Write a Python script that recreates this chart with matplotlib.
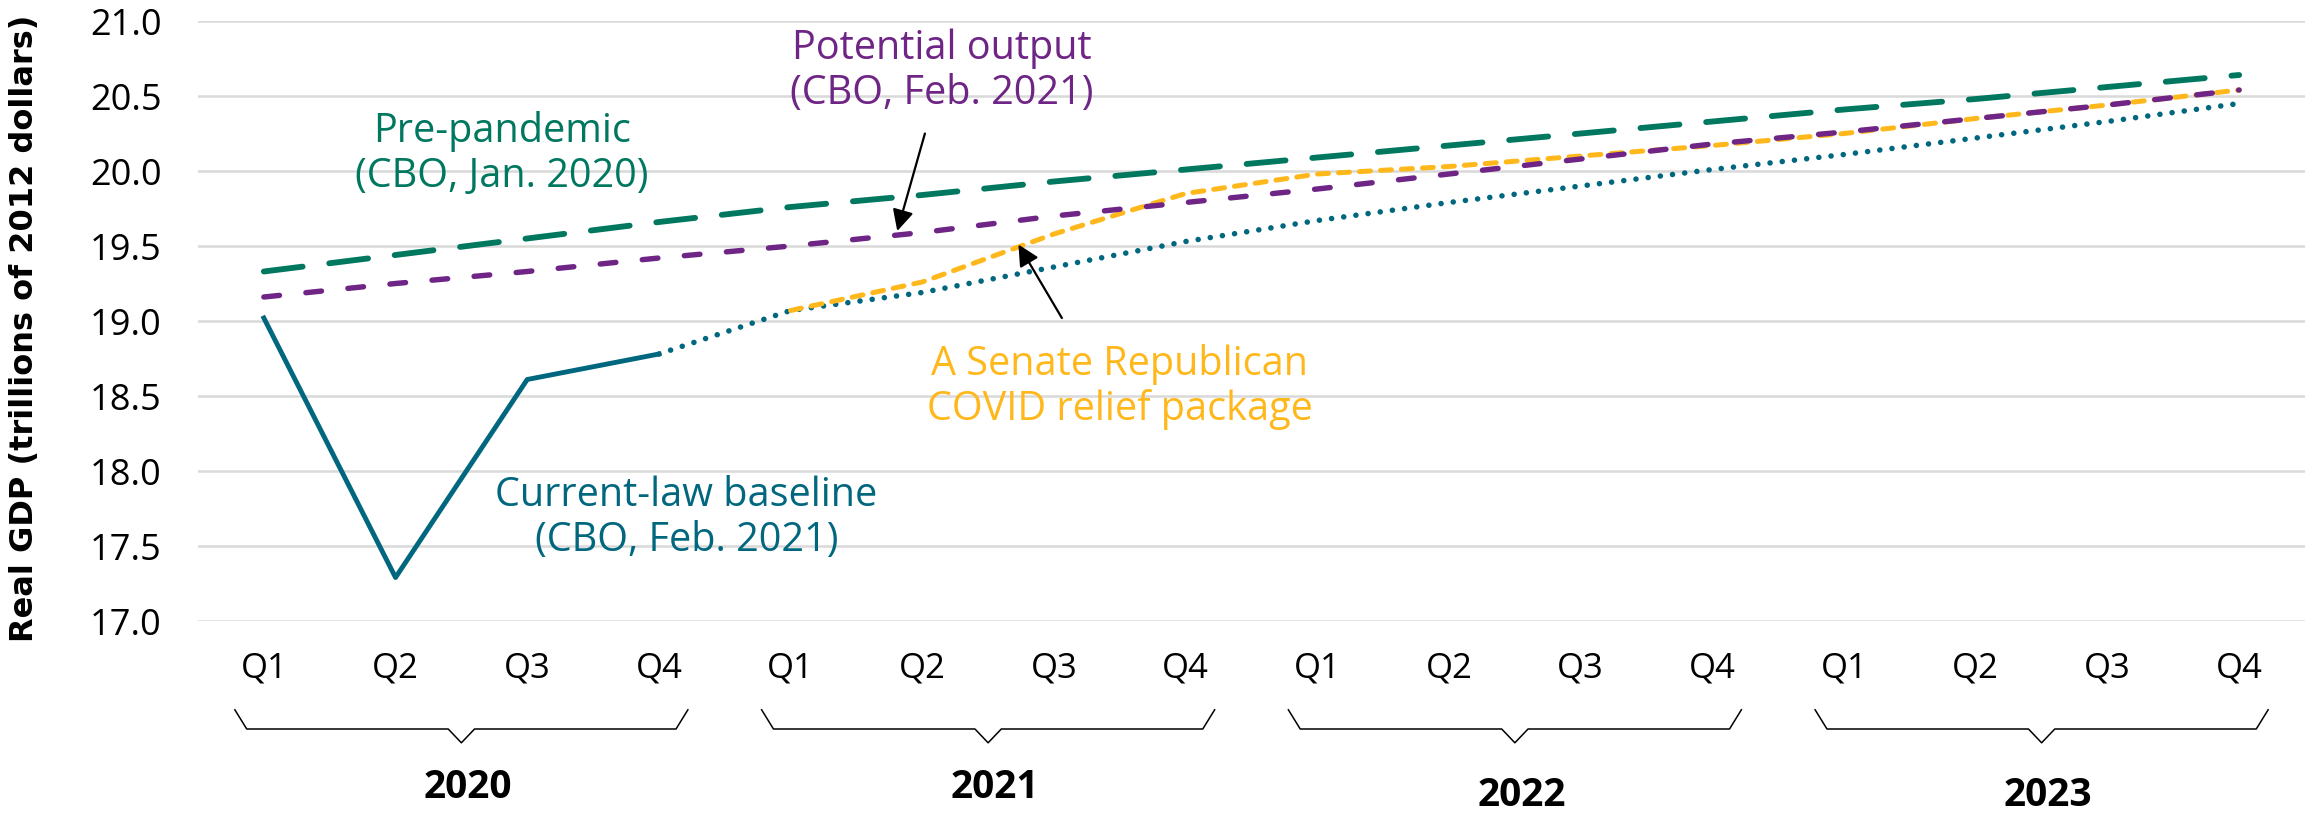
import matplotlib
matplotlib.use("Agg")
from matplotlib import pyplot as plt
import matplotlib.transforms as mtransforms

plt.rcParams['font.family'] = ['Open Sans', 'DejaVu Sans']

# data
quarters = ["Q1", "Q2", "Q3", "Q4"] * 4
years = ["2020", "2021", "2022", "2023"]
x_all = list(range(16))

pre_pandemic = [19.33, 19.44, 19.55, 19.66, 19.76, 19.84, 19.93, 20.01,
                20.09, 20.17, 20.25, 20.33, 20.41, 20.48, 20.56, 20.64]
potential = [19.16, 19.25, 19.33, 19.42, 19.50, 19.59, 19.70, 19.79,
             19.88, 19.98, 20.08, 20.18, 20.26, 20.35, 20.44, 20.54]
baseline_actual = [19.02, 17.29, 18.61, 18.78]
baseline_proj = [18.78, 19.07, 19.19, 19.36, 19.53, 19.67, 19.79, 19.90,
                 20.01, 20.11, 20.22, 20.33, 20.45]
senate_gop = [19.07, 19.26, 19.58, 19.85, 19.98, 20.03, 20.10, 20.17,
              20.25, 20.35, 20.44, 20.54]

green = "#00775F"
purple = "#6F2585"
teal = "#00677F"
yellow = "#FFB81C"

fig = plt.figure(figsize=(23.05, 8.13), dpi=100)
ax = fig.add_axes([198 / 2305, 192 / 813, 1 - 198 / 2305, 600 / 813])

ax.set_xlim(-0.5, 15.5)
ax.set_ylim(17.0, 21.0)
ax.set_yticks([17.0, 17.5, 18.0, 18.5, 19.0, 19.5, 20.0, 20.5, 21.0])
ax.set_yticklabels(["%.1f" % v for v in ax.get_yticks()], fontsize=26)
ax.set_xticks(x_all)
ax.set_xticklabels(quarters, fontsize=25)
ax.tick_params(axis="both", length=0)
ax.tick_params(axis="y", pad=26)
ax.tick_params(axis="x", pad=22)
for s in ax.spines.values():
    s.set_visible(False)
ax.grid(axis="y", color="#D9D9D9", lw=1.8)
ax.set_axisbelow(True)

# lines
ax.plot(x_all[:4], baseline_actual, color=teal, lw=3.5, zorder=3)
ax.plot(x_all[3:], baseline_proj, color=teal, lw=4.0, linestyle=(0, (0.01, 2.2)),
        dash_capstyle="round", zorder=3)
ax.plot(x_all[4:], senate_gop, color=yellow, lw=3.6, linestyle=(0, (2.2, 2.0)),
        dash_capstyle="round", zorder=4)
ax.plot(x_all, potential, color=purple, lw=3.9, linestyle=(0, (2.9, 4.9)),
        dash_capstyle="round", zorder=5)
ax.plot(x_all, pre_pandemic, color=green, lw=4.2, linestyle=(0, (6.7, 4.6)),
        dash_capstyle="round", zorder=5)

# labels on chart
ax.text(1.81, 20.113, "Pre-pandemic\n(CBO, Jan. 2020)", color=green, fontsize=28.5,
        ha="center", va="center", linespacing=1.15)
ax.text(5.15, 20.667, "Potential output\n(CBO, Feb. 2021)", color=purple, fontsize=28.5,
        ha="center", va="center", linespacing=1.15)
ax.text(6.50, 18.56, "A Senate Republican\nCOVID relief package", color=yellow, fontsize=28.5,
        ha="center", va="center", linespacing=1.15)
ax.text(3.21, 17.687, "Current-law baseline\n(CBO, Feb. 2021)", color=teal, fontsize=28.5,
        ha="center", va="center", linespacing=1.15)

arrow = dict(arrowstyle="-|>", color="black", lw=1.6, mutation_scale=32, shrinkA=0, shrinkB=0)
ax.annotate("", xy=(4.81, 19.60), xytext=(5.02, 20.25), arrowprops=arrow, zorder=6)
ax.annotate("", xy=(5.73, 19.51), xytext=(6.06, 19.02), arrowprops=arrow, zorder=6)

# year braces under the quarter labels
trans = mtransforms.blended_transform_factory(ax.transData, ax.transAxes)
for i, yr in enumerate(years):
    c = 4 * i + 1.5
    bx = [c - 1.72, c - 1.63, c - 0.1, c, c + 0.1, c + 1.63, c + 1.72]
    by = [-0.148, -0.18, -0.18, -0.203, -0.18, -0.18, -0.148]
    ax.plot(bx, by, color="black", lw=1.1, transform=trans, clip_on=False)
    ty = -0.277 if i < 2 else -0.29
    ax.text(c + 0.05, ty, yr, transform=trans, ha="center", va="center",
            fontsize=28, fontweight="bold")

fig.text(25 / 2305, 1 - 328 / 813, "Real GDP (trillions of 2012 dollars)", rotation=90,
         ha="center", va="center", fontsize=23, fontweight="bold", family="DejaVu Sans")

plt.savefig("out.png", dpi=100)
